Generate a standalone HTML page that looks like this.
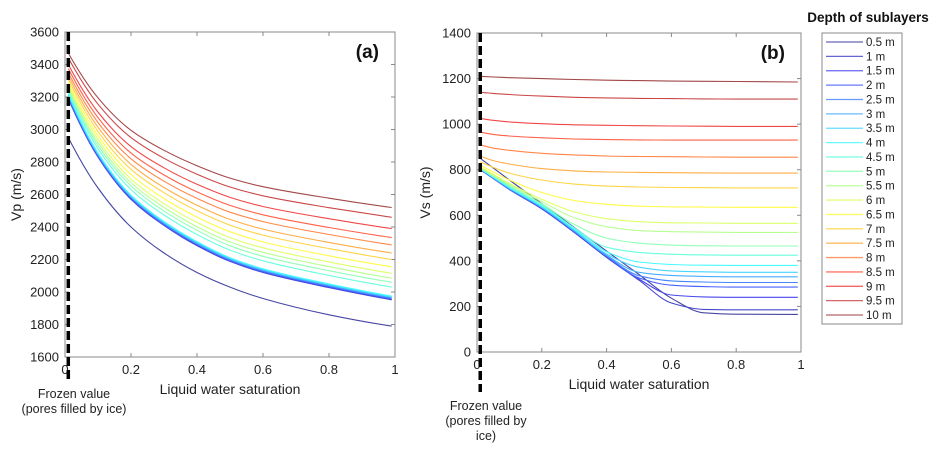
<!DOCTYPE html>
<html><head><meta charset="utf-8"><style>
body{margin:0;background:#fff;}
svg{display:block;font-family:"Liberation Sans",sans-serif;}
</style></head><body>
<svg id="c" width="941" height="452" viewBox="0 0 941 452"></svg>
<script>
const depths=["0.5 m","1 m","1.5 m","2 m","2.5 m","3 m","3.5 m","4 m","4.5 m","5 m","5.5 m","6 m","6.5 m","7 m","7.5 m","8 m","8.5 m","9 m","9.5 m","10 m"];
const vpX=[0.01,0.1,0.2,0.3,0.4,0.5,0.6,0.8,0.99];
const vp05=[2950,2640,2400,2240,2120,2030,1960,1860,1790];
const vp1=[3190,2830,2570,2410,2285,2188,2120,2027,1952];
const vp15=[3195,2834,2574,2413,2289,2191,2123,2030,1955];
const vp2=[3200,2838,2578,2416,2292,2194,2126,2033,1958];
const vp25=[3205,2842,2582,2420,2296,2198,2130,2037,1962];
const vp3=[3210,2846,2586,2424,2300,2202,2134,2041,1966];
const vp35=[3215,2851,2591,2429,2305,2206,2138,2045,1970];
const vp4=[3220,2856,2596,2434,2310,2211,2143,2050,1975];
const vp45=[3230,2882,2630,2474,2354,2258,2192,2102,2030];
const vp5=[3245,2901,2653,2498,2380,2285,2220,2131,2060];
const vp55=[3260,2919,2673,2520,2402,2308,2244,2156,2085];
const vp6=[3275,2939,2695,2544,2428,2335,2272,2185,2115];
const vp65=[3290,2961,2723,2575,2461,2371,2308,2223,2155];
const vp7=[3310,2988,2755,2611,2500,2411,2350,2267,2200];
const vp75=[3330,3014,2785,2643,2534,2447,2387,2305,2240];
const vp8=[3350,3043,2820,2682,2576,2491,2433,2354,2290];
const vp85=[3375,3073,2855,2720,2616,2533,2475,2397,2335];
const vp9=[3400,3107,2895,2764,2663,2582,2526,2451,2390];
const vp95=[3440,3156,2950,2823,2725,2646,2592,2519,2460];
const vp10=[3470,3195,2995,2872,2777,2701,2648,2577,2520];
const vpSeries=[vp05,vp1,vp15,vp2,vp25,vp3,vp35,vp4,vp45,vp5,vp55,vp6,vp65,vp7,vp75,vp8,vp85,vp9,vp95,vp10];
const vsX=[0.01,0.05,0.1,0.2,0.3,0.4,0.5,0.6,0.7,0.8,0.99];
const vs05=[850,808,755,651,547,443,340,236,172,166,165];
const vs1=[800,762,713,628,525,415,315,215,187,185,185];
const vs15=[800,762,714,630,527,418,320,250,242,240,240];
const vs2=[801,763,715,632,528,420,325,293,287,285,285];
const vs25=[802,764,716,633,530,422,335,312,307,305,305];
const vs3=[803,765,718,635,532,425,350,336,332,330,330];
const vs35=[804,766,720,637,535,430,372,356,352,350,350];
const vs4=[805,768,722,640,540,440,395,384,381,380,380];
const vs45=[806,770,725,645,545,460,437,429,426,425,425];
const vs5=[808,772,730,650,560,500,478,469,466,465,465];
const vs55=[810,775,735,660,590,550,533,528,526,525,525];
const vs6=[812,780,740,670,615,585,572,567,566,565,565];
const vs65=[820,790,755,700,665,648,640,637,636,635,635];
const vs7=[835,810,785,755,737,728,724,722,721,720,720];
const vs75=[860,840,825,805,795,790,788,787,786,785,785];
const vs8=[910,895,885,872,865,860,858,857,856,855,855];
const vs85=[965,955,948,940,935,932,931,930,930,930,930];
const vs9=[1025,1017,1010,1002,997,995,993,992,991,990,990];
const vs95=[1140,1135,1130,1123,1118,1115,1113,1112,1111,1110,1110];
const vs10=[1210,1207,1204,1200,1196,1193,1191,1189,1188,1187,1185];
const vsSeries=[vs05,vs1,vs15,vs2,vs25,vs3,vs35,vs4,vs45,vs5,vs55,vs6,vs65,vs7,vs75,vs8,vs85,vs9,vs95,vs10];
const xTicks=[0,0.2,0.4,0.6,0.8,1];
const xTickLabels=["0","0.2","0.4","0.6","0.8","1"];
const vpTicks=[1600,1800,2000,2200,2400,2600,2800,3000,3200,3400,3600];
const vsTicks=[0,200,400,600,800,1000,1200,1400];

const NS="http://www.w3.org/2000/svg";
const svg=document.getElementById('c');
function mk(tag,attrs,parent){const e=document.createElementNS(NS,tag);for(const k in attrs)e.setAttribute(k,attrs[k]);(parent||svg).appendChild(e);return e;}
function jet(t,w){const c=v=>Math.max(0,Math.min(1,v));let r=c(1.5-Math.abs(4*t-3)),g=c(1.5-Math.abs(4*t-2)),b=c(1.5-Math.abs(4*t-1));
 const f=v=>Math.round((v*(1-w)+w)*255);return `rgb(${f(r)},${f(g)},${f(b)})`;}
function smooth(pts){ // PCHIP
 const n=pts.length,h=[],s=[],m=[];
 for(let i=0;i<n-1;i++){h.push(pts[i+1][0]-pts[i][0]);s.push((pts[i+1][1]-pts[i][1])/h[i]);}
 for(let i=1;i<n-1;i++){ if(s[i-1]*s[i]<=0){m[i]=0;continue;}
  const w1=2*h[i]+h[i-1],w2=h[i]+2*h[i-1];m[i]=(w1+w2)/(w1/s[i-1]+w2/s[i]);}
 const endm=(h0,h1,s0,s1)=>{let d=((2*h0+h1)*s0-h0*s1)/(h0+h1);if(d*s0<=0)d=0;else if(s0*s1<=0&&Math.abs(d)>Math.abs(3*s0))d=3*s0;return d;};
 m[0]=endm(h[0],h[1],s[0],s[1]);m[n-1]=endm(h[n-2],h[n-3],s[n-2],s[n-3]);
 let d=`M${pts[0][0].toFixed(1)},${pts[0][1].toFixed(1)}`;
 for(let i=0;i<n-1;i++){const k=h[i];
  d+=`C${(pts[i][0]+k/3).toFixed(1)},${(pts[i][1]+m[i]*k/3).toFixed(1)} ${(pts[i+1][0]-k/3).toFixed(1)},${(pts[i+1][1]-m[i+1]*k/3).toFixed(1)} ${pts[i+1][0].toFixed(1)},${pts[i+1][1].toFixed(1)}`;}
 return d;}

function panel(o){
 const g=mk('g',{});
 
 
 const sx=v=>o.x0+(o.x1-o.x0)*v, sy=v=>o.y1-(o.y1-o.y0)*(v-o.ymin)/(o.ymax-o.ymin);
 mk('rect',{x:o.x0,y:o.y0,width:o.x1-o.x0,height:o.y1-o.y0,fill:'none',stroke:'#888','stroke-width':1},g);
 xTicks.forEach((t,i)=>{const x=sx(t);
  mk('line',{x1:x,y1:o.y1,x2:x,y2:o.y1-4,stroke:'#888'},g);mk('line',{x1:x,y1:o.y0,x2:x,y2:o.y0+4,stroke:'#888'},g);
  const tx=mk('text',{x:x,y:o.y1+17,'font-size':13,'text-anchor':'middle',fill:'#222'},g);tx.textContent=xTickLabels[i];
  
  });
 o.yTicks.forEach(t=>{const y=sy(t);
  mk('line',{x1:o.x0,y1:y,x2:o.x0+4,y2:y,stroke:'#888'},g);mk('line',{x1:o.x1,y1:y,x2:o.x1-4,y2:y,stroke:'#888'},g);
  const tx=mk('text',{x:o.x0-6,y:y+4.5,'font-size':13,'text-anchor':'end',fill:'#222'},g);tx.textContent=t;
  
  });
 o.series.forEach((arr,i)=>{const pts=arr.map((v,j)=>[sx(o.xs[j]),sy(v)]);
  const p=mk('path',{d:smooth(pts),fill:'none',stroke:jet(i/19,0.28),'stroke-width':1.1},g);
  
  });
 const fx=sx(0.01);
 const dl=mk('line',{x1:fx,y1:o.y0,x2:fx,y2:o.dashEnd,stroke:'#000','stroke-width':3.5,'stroke-dasharray':'9,4'},g);
 
 
 const yl=mk('text',{x:o.ylx,y:(o.y0+o.y1)/2,'font-size':14,'text-anchor':'middle',fill:'#222',transform:`rotate(-90 ${o.ylx} ${(o.y0+o.y1)/2})`},g);yl.textContent=o.ylabel;
 
 
 const xl=mk('text',{x:(o.x0+o.x1)/2,y:o.y1+37,'font-size':14,'text-anchor':'middle',fill:'#222'},g);xl.textContent='Liquid water saturation';
 
 
 const pl=mk('text',{x:o.x1-16,y:o.y0+26,'font-size':19,'font-weight':'bold','text-anchor':'end',fill:'#111'},g);pl.textContent=o.tag;
 
 
 o.notes.forEach((s,k)=>{const t=mk('text',{x:o.noteX,y:o.noteY+k*15,'font-size':12.5,'text-anchor':'middle',fill:'#222'},g);t.textContent=s;
  
  });
}
panel({name:'panel-a-vp',x0:65,x1:395,y0:32,y1:357,ymin:1600,ymax:3600,yTicks:vpTicks,xs:vpX,series:vpSeries,ylabel:'Vp (m/s)',ylx:21,tag:'(a)',dashEnd:382,notes:['Frozen value','(pores filled by ice)'],noteX:74,noteY:398});
panel({name:'panel-b-vs',x0:477,x1:801,y0:33,y1:352,ymin:0,ymax:1400,yTicks:vsTicks,xs:vsX,series:vsSeries,ylabel:'Vs (m/s)',ylx:430,tag:'(b)',dashEnd:392,notes:['Frozen value','(pores filled by','ice)'],noteX:486,noteY:410});

const lg=mk('g',{});


const lt=mk('text',{x:868,y:22,'font-size':13.5,'font-weight':'bold','text-anchor':'middle',fill:'#111'},lg);lt.textContent='Depth of sublayers';


mk('rect',{x:822,y:33,width:80,height:291,fill:'#fff',stroke:'#888'},lg);
depths.forEach((d,i)=>{const y=42+i*14.37;
 const e=mk('g',{},lg);
 
 
 mk('line',{x1:826,y1:y,x2:863,y2:y,stroke:jet(i/19,0.4),'stroke-width':1.3},e);
 const t=mk('text',{x:866,y:y+4,'font-size':11.5,fill:'#222'},e);t.textContent=d;});
</script>
</body></html>
